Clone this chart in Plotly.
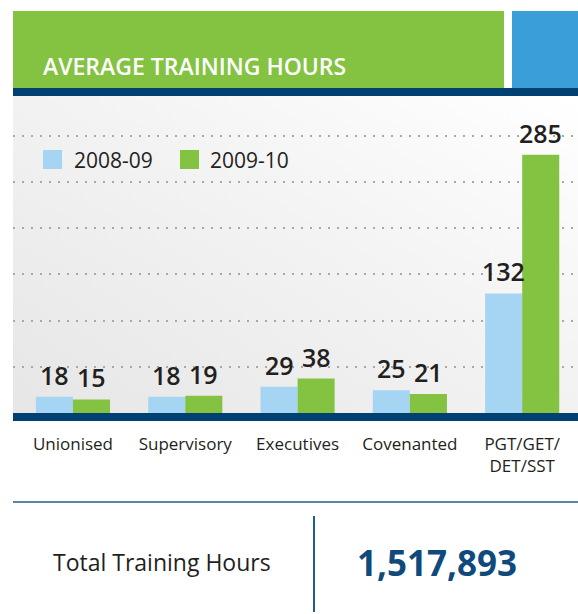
import base64
import plotly.graph_objects as go

# ---- data ----
categories = ["Unionised", "Supervisory", "Executives", "Covenanted", "PGT/GET/<br>DET/SST"]
series_names = ["2008-09", "2009-10"]
values_2008_09 = [18, 18, 29, 25, 132]
values_2009_10 = [15, 19, 38, 21, 285]
chart_title = "AVERAGE TRAINING HOURS"
total_label = "Total Training Hours"
total_value = "1,517,893"

# ---- style ----
W, H = 578, 614
PL, PR, PT, PB = 13, 578, 96, 413  # plot area in px
BLUE_LIGHT = "#a5d5f3"
GREEN = "#83c341"
HEADER_BLUE = "#3a9fd8"
NAVY = "#004172"
TEXT = "#231f20"
FONT = "Open Sans"
BAR_HALF_PX = 18.5


def px_x(px):
    return (px - PL) / (PR - PL)


def px_y(py):
    return (PB - py) / (PB - PT)


fig = go.Figure()
fig.add_trace(go.Bar(
    x=categories, y=values_2008_09, name=series_names[0],
    marker=dict(color=BLUE_LIGHT, line=dict(width=0)), showlegend=False,
))
fig.add_trace(go.Bar(
    x=categories, y=values_2009_10, name=series_names[1],
    marker=dict(color=GREEN, line=dict(width=0)), showlegend=False,
))

# gradient background as svg image
svg = (
    '<svg xmlns="http://www.w3.org/2000/svg" width="565" height="317">'
    '<defs><linearGradient id="g" x1="0" y1="1" x2="1" y2="0">'
    '<stop offset="0" stop-color="#e6e6e6"/>'
    '<stop offset="0.55" stop-color="#f3f3f3"/>'
    '<stop offset="1" stop-color="#ffffff"/>'
    '</linearGradient></defs>'
    '<rect width="565" height="317" fill="url(#g)"/></svg>'
)
img_src = "data:image/svg+xml;base64," + base64.b64encode(svg.encode()).decode()

shapes = [
    dict(type="rect", xref="paper", yref="paper", x0=px_x(13), x1=px_x(504), y0=px_y(88), y1=px_y(11),
         fillcolor=GREEN, line=dict(width=0), layer="below"),
    dict(type="rect", xref="paper", yref="paper", x0=px_x(512), x1=px_x(578), y0=px_y(89), y1=px_y(11),
         fillcolor=HEADER_BLUE, line=dict(width=0), layer="below"),
    dict(type="rect", xref="paper", yref="paper", x0=px_x(13), x1=px_x(578), y0=px_y(96), y1=px_y(88),
         fillcolor=NAVY, line=dict(width=0)),
    dict(type="rect", xref="paper", yref="paper", x0=px_x(13), x1=px_x(578), y0=px_y(421), y1=px_y(413),
         fillcolor=NAVY, line=dict(width=0)),
    dict(type="line", xref="paper", yref="paper", x0=px_x(13), x1=px_x(578), y0=px_y(502), y1=px_y(502),
         line=dict(color="#1e5b8f", width=1.5)),
    dict(type="line", xref="paper", yref="paper", x0=px_x(314), x1=px_x(314), y0=px_y(516), y1=px_y(612),
         line=dict(color="#1e5b8f", width=2)),
    dict(type="rect", xref="paper", yref="paper", x0=px_x(43), x1=px_x(62), y0=px_y(169), y1=px_y(150),
         fillcolor=BLUE_LIGHT, line=dict(width=0)),
    dict(type="rect", xref="paper", yref="paper", x0=px_x(180), x1=px_x(199), y0=px_y(169), y1=px_y(150),
         fillcolor=GREEN, line=dict(width=0)),
]

annotations = [
    dict(text=chart_title, xref="paper", yref="paper", x=px_x(41), y=px_y(66), xanchor="left", yanchor="middle",
         showarrow=False, font=dict(family=FONT, size=23, color="white", weight=600)),
    dict(text=series_names[0], xref="paper", yref="paper", x=px_x(72), y=px_y(160), xanchor="left",
         yanchor="middle", showarrow=False, font=dict(family=FONT, size=21, color=TEXT, weight=500)),
    dict(text=series_names[1], xref="paper", yref="paper", x=px_x(208), y=px_y(160), xanchor="left",
         yanchor="middle", showarrow=False, font=dict(family=FONT, size=21, color=TEXT, weight=500)),
    dict(text=total_label, xref="paper", yref="paper", x=px_x(162), y=px_y(562), xanchor="center",
         yanchor="middle", showarrow=False, font=dict(family=FONT, size=23, color=TEXT)),
    dict(text=total_value, xref="paper", yref="paper", x=px_x(437), y=px_y(562), xanchor="center",
         yanchor="middle", showarrow=False, font=dict(family=FONT, size=35, color="#104a7d", weight=700)),
]

# value labels above bars
label_font = dict(family=FONT, size=25, color=TEXT, weight=600)
for cat, v in zip(categories, values_2008_09):
    annotations.append(dict(text=str(v), x=cat, y=v, xref="x", yref="y", xshift=-BAR_HALF_PX, yshift=3,
                            xanchor="center", yanchor="bottom", showarrow=False, font=label_font))
for cat, v in zip(categories, values_2009_10):
    annotations.append(dict(text=str(v), x=cat, y=v, xref="x", yref="y", xshift=BAR_HALF_PX, yshift=3,
                            xanchor="center", yanchor="bottom", showarrow=False, font=label_font))

fig.update_layout(
    width=W, height=H,
    margin=dict(l=PL, r=W - PR, t=PT, b=H - PB, pad=0),
    paper_bgcolor="white", plot_bgcolor="rgba(0,0,0,0)",
    barmode="group", bargap=0.34, bargroupgap=0,
    shapes=shapes, annotations=annotations,
    images=[dict(source=img_src, xref="paper", yref="paper", x=0, y=1, sizex=1, sizey=1,
                 sizing="stretch", xanchor="left", yanchor="top", layer="below")],
    font=dict(family=FONT, color=TEXT),
    showlegend=False,
)
fig.update_xaxes(
    range=[-0.534, 4.497], showgrid=False, zeroline=False, showline=False, ticks="",
    tickfont=dict(family=FONT, size=17, color=TEXT), ticklabelstandoff=19,
)
fig.update_yaxes(
    range=[0, 350], dtick=51, showgrid=True, gridcolor="#a8a8a8", gridwidth=2,
    griddash="2px,7px", zeroline=False, showticklabels=False, ticks="",
)

fig.write_html(
    "out.html",
    config={"displayModeBar": False},
    post_script="document.body.style.margin='0';document.body.style.overflow='hidden';",
)
